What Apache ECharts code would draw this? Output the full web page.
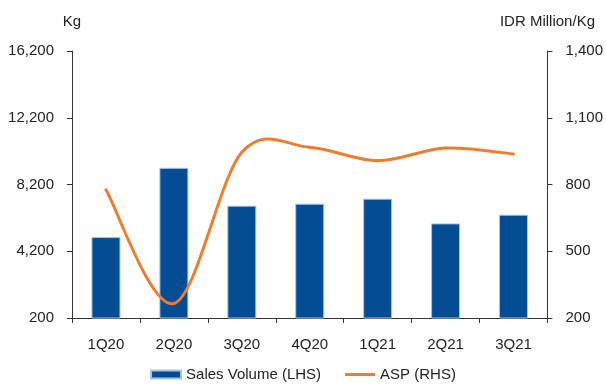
<!DOCTYPE html>
<html>
<head>
<meta charset="utf-8">
<script src="https://cdn.jsdelivr.net/npm/echarts@6/dist/echarts.min.js"></script>
<style>
  html, body { margin: 0; padding: 0; background: #fff; }
  #chart { width: 606px; height: 389px; }
</style>
</head>
<body>
<div id="chart"></div>
<script>
const quarters = ['1Q20', '2Q20', '3Q20', '4Q20', '1Q21', '2Q21', '3Q21'];
const salesVolume = [5050, 9200, 6930, 7050, 7350, 5870, 6390];
const asp = [776, 265, 945, 967, 907, 964, 937];
const leftTicks = [200, 4200, 8200, 12200, 16200];
const rightTicks = [200, 500, 800, 1100, 1400];

const textColor = '#222';
const axisColor = '#333';
const orange = '#ed7d31';
const font = 'Liberation Sans, Arial, sans-serif';

const chart = echarts.init(document.getElementById('chart'), null, { renderer: 'canvas' });

const yAxisBase = (ticks, name) => ({
    type: 'value',
    min: ticks[0],
    max: ticks[ticks.length - 1],
    name,
    nameLocation: 'end',
    nameGap: 22,
    nameTextStyle: { color: textColor, fontSize: 15, fontFamily: font },
    axisLine: { show: true, lineStyle: { color: axisColor, width: 1 } },
    axisTick: { show: true, length: 5, customValues: ticks, lineStyle: { color: axisColor } },
    axisLabel: {
        color: textColor,
        fontSize: 15,
        fontFamily: font,
        margin: 18,
        customValues: ticks,
        formatter: (v) => v.toLocaleString('en-US'),
    },
    splitLine: { show: false },
});

// Excel-style smoothed line: each item draws the Catmull-Rom segment to the next point
function renderAspSegment(params, api) {
    const i = params.dataIndexInside;
    const n = params.dataInsideLength;
    if (i >= n - 1) return null;
    const pt = (j) => {
        j = Math.max(0, Math.min(n - 1, j));
        return api.coord([api.value(0, j), api.value(1, j)]);
    };
    const p0 = pt(i - 1), p1 = pt(i), p2 = pt(i + 1), p3 = pt(i + 2);
    return {
        type: 'bezierCurve',
        shape: {
            x1: p1[0], y1: p1[1],
            cpx1: p1[0] + (p2[0] - p0[0]) / 6, cpy1: p1[1] + (p2[1] - p0[1]) / 6,
            cpx2: p2[0] - (p3[0] - p1[0]) / 6, cpy2: p2[1] - (p3[1] - p1[1]) / 6,
            x2: p2[0], y2: p2[1],
        },
        style: { stroke: orange, lineWidth: 3, fill: null, lineCap: 'round' },
    };
}

chart.setOption({
    animation: false,
    backgroundColor: '#fff',
    textStyle: { fontFamily: font },
    grid: { left: 72, right: 57, top: 51, bottom: 71, containLabel: false },
    legend: {
        left: 'center',
        bottom: 2,
        itemWidth: 30,
        itemHeight: 8,
        itemGap: 24,
        textStyle: { color: textColor, fontSize: 15, fontFamily: font },
        data: [
            { name: 'Sales Volume (LHS)', icon: 'rect' },
            { name: 'ASP (RHS)', icon: 'path://M0,0L0,0M0,2.5H30V5.5H0ZM30,8L30,8' },
        ],
    },
    xAxis: {
        type: 'category',
        data: quarters,
        axisLine: { lineStyle: { color: axisColor, width: 1 } },
        axisTick: { show: true, length: 5, lineStyle: { color: axisColor } },
        axisLabel: { color: textColor, fontSize: 15, fontFamily: font, margin: 19 },
    },
    yAxis: [
        yAxisBase(leftTicks, 'Kg'),
        yAxisBase(rightTicks, 'IDR Million/Kg'),
    ],
    series: [
        {
            name: 'Sales Volume (LHS)',
            type: 'bar',
            data: salesVolume,
            barWidth: 29,
            itemStyle: { color: '#044d95', borderColor: '#a9c4e2', borderWidth: 1 },
        },
        {
            name: 'ASP (RHS)',
            type: 'custom',
            yAxisIndex: 1,
            data: asp.map((v, i) => [i, v]),
            encode: { x: 0, y: 1 },
            itemStyle: { color: orange },
            renderItem: renderAspSegment,
            z: 3,
        },
    ],
});
</script>
</body>
</html>
